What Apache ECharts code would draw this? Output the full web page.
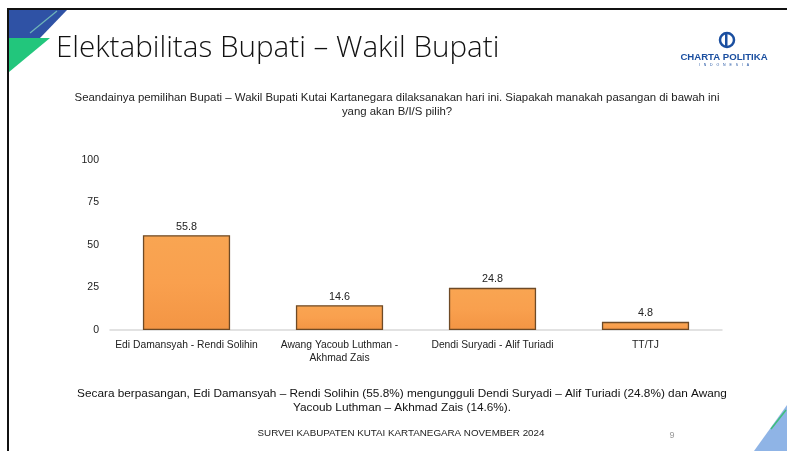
<!DOCTYPE html>
<html><head><meta charset="utf-8">
<script src="https://cdn.jsdelivr.net/npm/echarts@6/dist/echarts.min.js"></script>
<style>html,body{margin:0;padding:0;background:#fff}#c{width:787px;height:451px}</style>
</head><body><div id="c"></div>
<script>
const categories = ['Edi Damansyah - Rendi Solihin', 'Awang Yacoub Luthman -\nAkhmad Zais', 'Dendi Suryadi - Alif Turiadi', 'TT/TJ'];
const values = [55.8, 14.6, 24.8, 4.8];
const yTicks = [0, 25, 50, 75, 100];

const FONT = '"Liberation Sans", Arial, sans-serif';
const chart = echarts.init(document.getElementById('c'));
chart.setOption({
  animation: false,
  backgroundColor: '#fff',
  grid: { left: 110, right: 65, top: 160, bottom: 121 },
  xAxis: {
    type: 'category', data: categories,
    axisLine: { lineStyle: { color: '#d9d9d9', width: 1.5 } },
    axisTick: { show: false },
    axisLabel: { interval: 0, color: '#222', fontFamily: FONT, fontSize: 10.3, margin: 9, lineHeight: 13 }
  },
  yAxis: {
    type: 'value', min: yTicks[0], max: yTicks[yTicks.length - 1], interval: 25,
    axisLine: { show: false }, axisTick: { show: false }, splitLine: { show: false },
    axisLabel: { color: '#222', fontFamily: FONT, fontSize: 10.5, margin: 11 }
  },
  series: [{
    type: 'bar', data: values, barWidth: '57%',
    itemStyle: {
      color: new echarts.graphic.LinearGradient(0, 0, 0, 1, [
        { offset: 0, color: '#f9a552' }, { offset: 0.5, color: '#f9a04e' }, { offset: 1, color: '#f39544' }
      ]),
      borderColor: '#6e4a26', borderWidth: 1.3
    },
    label: { show: true, position: 'top', color: '#222', fontFamily: FONT, fontSize: 10.8, distance: 3,
      formatter: p => p.value.toFixed(1) }
  }],
  graphic: [
    { type: 'rect', shape: { x: 0, y: 0, width: 787, height: 451 }, style: { fill: '#fff' }, z: -10 },
    { type: 'line', shape: { x1: 8, y1: 9, x2: 787, y2: 9 }, style: { stroke: '#111', lineWidth: 2 } },
    { type: 'line', shape: { x1: 8, y1: 8, x2: 8, y2: 451 }, style: { stroke: '#111', lineWidth: 2 } },
    { type: 'polygon', shape: { points: [[9, 10], [67, 10], [40, 38], [9, 38]] }, style: { fill: '#2f52a5' } },
    { type: 'polygon', shape: { points: [[9, 38], [50, 38], [9, 72]] }, style: { fill: '#22c67c' } },
    { type: 'line', shape: { x1: 30, y1: 33, x2: 57, y2: 11 }, style: { stroke: '#6fb5b8', lineWidth: 1.2 } },
    { type: 'polygon', shape: { points: [[787, 405], [787, 451], [754, 451]] }, style: { fill: '#8fb4e6' } },
    { type: 'line', shape: { x1: 771, y1: 429, x2: 786, y2: 410 }, style: { stroke: '#3dbf7a', lineWidth: 1.5 } },
    { type: 'text', left: 56, top: 34, style: { text: 'Elektabilitas Bupati – Wakil Bupati', fill: '#111', font: '300 29.6px "Open Sans", sans-serif' } },
    { type: 'circle', shape: { cx: 727, cy: 40, r: 7 }, style: { fill: 'none', stroke: '#1b4fa0', lineWidth: 2.5 } },
    { type: 'rect', shape: { x: 725, y: 34, width: 2.5, height: 12 }, style: { fill: '#1b4fa0' } },
    { type: 'text', x: 724, y: 52, style: { text: 'CHARTA POLITIKA', fill: '#1b4fa0', font: 'bold 9.6px "Liberation Sans", sans-serif', textAlign: 'center' } },
    { type: 'text', x: 724, y: 63, style: { text: 'I    N    D    O    N    E    S    I    A', fill: '#1b4fa0', font: '3.5px sans-serif', textAlign: 'center' } },
    { type: 'text', x: 397, y: 91, style: { text: 'Seandainya pemilihan Bupati – Wakil Bupati Kutai Kartanegara dilaksanakan hari ini. Siapakah manakah pasangan di bawah ini\nyang akan B/I/S pilih?', fill: '#222', font: '11.4px ' + FONT, textAlign: 'center', lineHeight: 14 } },
    { type: 'text', x: 402, y: 387, style: { text: 'Secara berpasangan, Edi Damansyah – Rendi Solihin (55.8%) mengungguli Dendi Suryadi – Alif Turiadi (24.8%) dan Awang\nYacoub Luthman – Akhmad Zais (14.6%).', fill: '#111', font: '11.8px ' + FONT, textAlign: 'center', lineHeight: 14 } },
    { type: 'text', x: 401, y: 428, style: { text: 'SURVEI KABUPATEN KUTAI KARTANEGARA NOVEMBER 2024', fill: '#222', font: '9.8px ' + FONT, textAlign: 'center' } },
    { type: 'text', x: 672, y: 431, style: { text: '9', fill: '#999', font: '9px ' + FONT, textAlign: 'center' } }
  ]
});
</script></body></html>
